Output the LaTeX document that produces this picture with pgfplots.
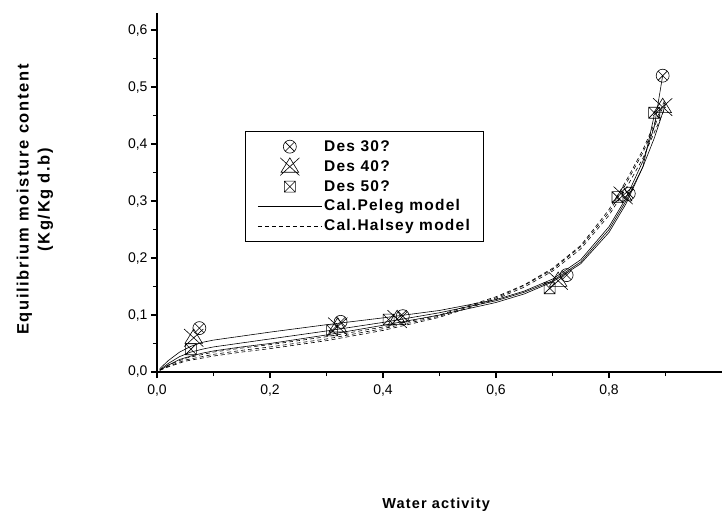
\documentclass[border=0pt]{standalone}
\usepackage{fontspec}
\setmainfont{Liberation Sans}
\newfontfamily\spaced[LetterSpace=8]{Liberation Sans}
\newfontfamily\wide[LetterSpace=10]{Liberation Sans}
\usepackage{pgfplots}
\pgfplotsset{compat=1.18}
\usetikzlibrary{plotmarks}

% square with a cross
\pgfdeclareplotmark{sqx}{%
  \pgfpathrectangle{\pgfpoint{-\pgfplotmarksize}{-\pgfplotmarksize}}{\pgfpoint{2\pgfplotmarksize}{2\pgfplotmarksize}}%
  \pgfpathmoveto{\pgfpoint{-\pgfplotmarksize}{-\pgfplotmarksize}}%
  \pgfpathlineto{\pgfpoint{\pgfplotmarksize}{\pgfplotmarksize}}%
  \pgfpathmoveto{\pgfpoint{-\pgfplotmarksize}{\pgfplotmarksize}}%
  \pgfpathlineto{\pgfpoint{\pgfplotmarksize}{-\pgfplotmarksize}}%
  \pgfusepathqstroke}
% triangle with a long cross
\pgfdeclareplotmark{trix}{%
  \pgfpathmoveto{\pgfpoint{0pt}{1.1\pgfplotmarksize}}%
  \pgfpathlineto{\pgfpoint{-1.1\pgfplotmarksize}{-0.7\pgfplotmarksize}}%
  \pgfpathlineto{\pgfpoint{1.1\pgfplotmarksize}{-0.7\pgfplotmarksize}}%
  \pgfpathclose
  \pgfpathmoveto{\pgfpoint{-1.2\pgfplotmarksize}{1.1\pgfplotmarksize}}%
  \pgfpathlineto{\pgfpoint{1.2\pgfplotmarksize}{-1.1\pgfplotmarksize}}%
  \pgfpathmoveto{\pgfpoint{-1.2\pgfplotmarksize}{-1.1\pgfplotmarksize}}%
  \pgfpathlineto{\pgfpoint{1.2\pgfplotmarksize}{1.1\pgfplotmarksize}}%
  \pgfusepathqstroke}

\begin{document}
\begin{tikzpicture}
\begin{axis}[
  scale only axis, width=565pt, height=359pt,
  xmin=0, xmax=1.0, ymin=0, ymax=0.63,
  axis x line*=bottom, axis y line*=left,
  axis line style={line width=1.3pt},
  xtick={0,0.2,0.4,0.6,0.8}, minor xtick={0.1,0.3,0.5,0.7,0.9},
  ytick={0,0.1,0.2,0.3,0.4,0.5,0.6},
  minor ytick={0.05,0.15,0.25,0.35,0.45,0.55},
  tick align=outside, major tick length=6pt, minor tick length=4pt,
  tick style={line width=1.2pt, black},
  /pgf/number format/.cd, use comma, fixed, fixed zerofill, precision=1, assume math mode=true,
  /pgfplots/.cd,
  ticklabel style={font=\fontsize{14}{16}\selectfont},
  xticklabel style={yshift=-3pt},
  xlabel={Water activity},
  xlabel style={font=\spaced\bfseries\fontsize{14.5}{17}\selectfont,
    at={(axis description cs:0.494,-0.37)}, anchor=center},
  ylabel={Equilibrium moisture content\\(Kg/Kg d.b)},
  ylabel style={font=\wide\bfseries\fontsize{16.5}{21}\selectfont, align=center,
    at={(axis description cs:-0.216,0.48)}, anchor=center},
  legend style={at={(axis description cs:0.156,0.671)}, anchor=north west,
    draw=black, line width=0.8pt, row sep=3pt, inner xsep=12pt, inner ysep=7pt,
    font=\spaced\bfseries\fontsize{15.5}{17}\selectfont, cells={anchor=west}},
  legend image code/.code={\draw[mark repeat=2,mark phase=2,#1] plot coordinates {(0pt,0pt) (32pt,0pt) (64pt,0pt)};},
]
% measured points
\addplot[only marks, mark=otimes, mark size=6.5pt, line width=0.6pt] coordinates {
  (0.075,0.077) (0.325,0.088) (0.435,0.098) (0.725,0.170) (0.835,0.313) (0.895,0.520)};
\addlegendentry{Des 30?}
\addplot[only marks, mark=trix, mark size=8pt, line width=0.6pt] coordinates {
  (0.065,0.060) (0.320,0.080) (0.425,0.093) (0.710,0.160) (0.825,0.310) (0.895,0.465)};
\addlegendentry{Des 40?}
\addplot[only marks, mark=sqx, mark size=5.5pt, line width=0.6pt] coordinates {
  (0.060,0.040) (0.310,0.073) (0.410,0.092) (0.695,0.147) (0.815,0.307) (0.880,0.455)};
\addlegendentry{Des 50?}
% Peleg model
\addplot[no marks, line width=0.6pt] coordinates {
  (0.005,0.006) (0.02,0.020) (0.04,0.035) (0.06,0.045) (0.08,0.052) (0.10,0.056)
  (0.15,0.063) (0.20,0.070) (0.30,0.083) (0.40,0.095) (0.50,0.108) (0.60,0.127)
  (0.65,0.142) (0.70,0.163) (0.75,0.197) (0.80,0.255) (0.83,0.305) (0.86,0.370)
  (0.88,0.430) (0.895,0.520)};
\addlegendentry{Cal.Peleg model}
\addplot[no marks, line width=0.6pt, forget plot] coordinates {
  (0.005,0.004) (0.02,0.015) (0.04,0.027) (0.06,0.035) (0.08,0.040) (0.10,0.044)
  (0.15,0.051) (0.20,0.058) (0.30,0.072) (0.40,0.087) (0.50,0.104) (0.60,0.125)
  (0.65,0.140) (0.70,0.160) (0.75,0.193) (0.80,0.250) (0.83,0.300) (0.86,0.360)
  (0.88,0.410) (0.90,0.470)};
\addplot[no marks, line width=0.6pt, forget plot] coordinates {
  (0.005,0.003) (0.02,0.012) (0.04,0.022) (0.06,0.028) (0.08,0.033) (0.10,0.037)
  (0.15,0.044) (0.20,0.050) (0.30,0.065) (0.40,0.082) (0.50,0.100) (0.60,0.122)
  (0.65,0.137) (0.70,0.158) (0.75,0.190) (0.80,0.245) (0.83,0.295) (0.86,0.360)
  (0.88,0.450)};
% Halsey model
\addplot[no marks, line width=0.6pt, dash pattern=on 4pt off 3pt] coordinates {
  (0.005,0.004) (0.02,0.012) (0.05,0.024) (0.10,0.035) (0.15,0.042) (0.20,0.048)
  (0.30,0.062) (0.40,0.079) (0.50,0.100) (0.60,0.132) (0.65,0.153) (0.70,0.182)
  (0.75,0.222) (0.80,0.285) (0.83,0.335) (0.86,0.390) (0.88,0.435) (0.90,0.480)};
\addlegendentry{Cal.Halsey model}
\addplot[no marks, line width=0.6pt, dash pattern=on 4pt off 3pt, forget plot] coordinates {
  (0.005,0.003) (0.02,0.010) (0.05,0.021) (0.10,0.031) (0.15,0.038) (0.20,0.044)
  (0.30,0.058) (0.40,0.076) (0.50,0.098) (0.60,0.130) (0.65,0.152) (0.70,0.180)
  (0.75,0.220) (0.80,0.280) (0.83,0.330) (0.86,0.385) (0.88,0.430) (0.90,0.475)};
\addplot[no marks, line width=0.6pt, dash pattern=on 4pt off 3pt, forget plot] coordinates {
  (0.005,0.003) (0.02,0.009) (0.05,0.019) (0.10,0.028) (0.15,0.035) (0.20,0.041)
  (0.30,0.055) (0.40,0.073) (0.50,0.096) (0.60,0.128) (0.65,0.149) (0.70,0.177)
  (0.75,0.216) (0.80,0.275) (0.83,0.322) (0.86,0.375) (0.88,0.420) (0.90,0.465)};
\end{axis}
\path (-157pt,-145pt) rectangle (567pt,372pt);
\end{tikzpicture}
\end{document}
